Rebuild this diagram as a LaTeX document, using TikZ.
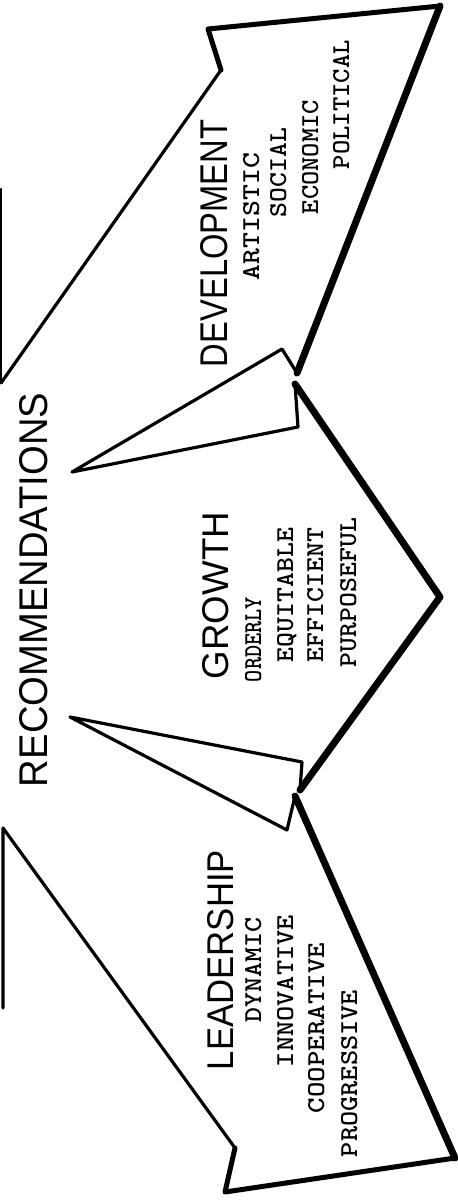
\documentclass[tikz,border=0pt]{standalone}
\usepackage{fontspec}
\newfontfamily\headfont{Liberation Sans}
\newcommand{\hdtxt}[3]{\resizebox{#1pt}{#2pt}{\headfont #3}}
\newcommand{\mntxt}[3]{\resizebox{#1pt}{#2pt}{\ttfamily\bfseries #3}}
\tikzset{
  edgebase/.style={draw=black, line join=round, line cap=round},
  hairedge/.style={edgebase, line width=2.2pt},
  thinedge/.style={edgebase, line width=3.2pt},
  midedge/.style={edgebase, line width=5pt},
  heavyedge/.style={edgebase, line width=7pt},
  lab/.style={rotate=90, anchor=base west, inner sep=0pt, outer sep=0pt, text=black},
}
\begin{document}
\begin{tikzpicture}[x=1pt,y=-1pt]
\useasboundingbox (0,0) rectangle (458,1203);
\fill[white] (0,0) rectangle (458,1203);
% vertices
\coordinate (b1t) at (1,189);
\coordinate (b1b) at (1,383);
\coordinate (dn) at (221,70);
\coordinate (dc) at (208,29);
\coordinate (dtip) at (440,6);
\coordinate (dl) at (297,373);
\coordinate (dln) at (282,349);
\coordinate (v1) at (72,472);
\coordinate (gn1) at (298,427);
\coordinate (gt) at (295,384);
\coordinate (gtip) at (440,597);
\coordinate (gb) at (300,790);
\coordinate (gbn) at (302,762);
\coordinate (v2) at (70,717);
\coordinate (ln) at (287,830);
\coordinate (lt) at (295,796);
\coordinate (ltip) at (455,1158);
\coordinate (lc) at (225,1192);
\coordinate (lbn) at (235,1148);
\coordinate (b2t) at (3,828);
\coordinate (b2b) at (3,1008);
% outline
\draw[hairedge] (b1t) -- (b1b);
\draw[thinedge] (b1b) -- (dn);
\draw[midedge] (dn) -- (dc) -- (dtip);
\draw[heavyedge] (dtip) -- (dl);
\draw[thinedge] (dl) -- (dln) -- (v1) -- (gn1) -- (gt);
\draw[heavyedge] (gt) -- (gtip) -- (gb);
\draw[thinedge] (gb) -- (gbn) -- (v2) -- (ln) -- (lt);
\draw[heavyedge] (lt) -- (ltip);
\draw[midedge] (ltip) -- (lc) -- (lbn);
\draw[thinedge] (lbn) -- (b2t) -- (b2b);
% texts
\node[lab] (rec) at (47,787) {\hdtxt{394}{28}{RECOMMENDATIONS}};
\node[lab] (dev) at (227,367) {\hdtxt{247}{27}{DEVELOPMENT}};
\node[lab] (dev1) at (259,280) {\mntxt{127}{16}{ARTISTIC}};
\node[lab] (dev2) at (286,217) {\mntxt{89}{16}{SOCIAL}};
\node[lab] (dev3) at (318,214) {\mntxt{114}{16}{ECONOMIC}};
\node[lab] (dev4) at (349,169) {\mntxt{129}{16}{POLITICAL}};
\node[lab] (gro) at (228,679) {\hdtxt{167}{26}{GROWTH}};
\node[lab] (gro1) at (261,682) {\mntxt{85}{16}{ORDERLY}};
\node[lab] (gro2) at (293,662) {\mntxt{134}{16}{EQUITABLE}};
\node[lab] (gro3) at (323,662) {\mntxt{134}{16}{EFFICIENT}};
\node[lab] (gro4) at (356,667) {\mntxt{149}{16}{PURPOSEFUL}};
\node[lab] (lea) at (233,1070) {\hdtxt{220}{26}{LEADERSHIP}};
\node[lab] (lea1) at (261,1022) {\mntxt{105}{16}{DYNAMIC}};
\node[lab] (lea2) at (293,1067) {\mntxt{152}{16}{INNOVATIVE}};
\node[lab] (lea3) at (324,1113) {\mntxt{170}{16}{COOPERATIVE}};
\node[lab] (lea4) at (357,1157) {\mntxt{167}{16}{PROGRESSIVE}};
\end{tikzpicture}
\end{document}
